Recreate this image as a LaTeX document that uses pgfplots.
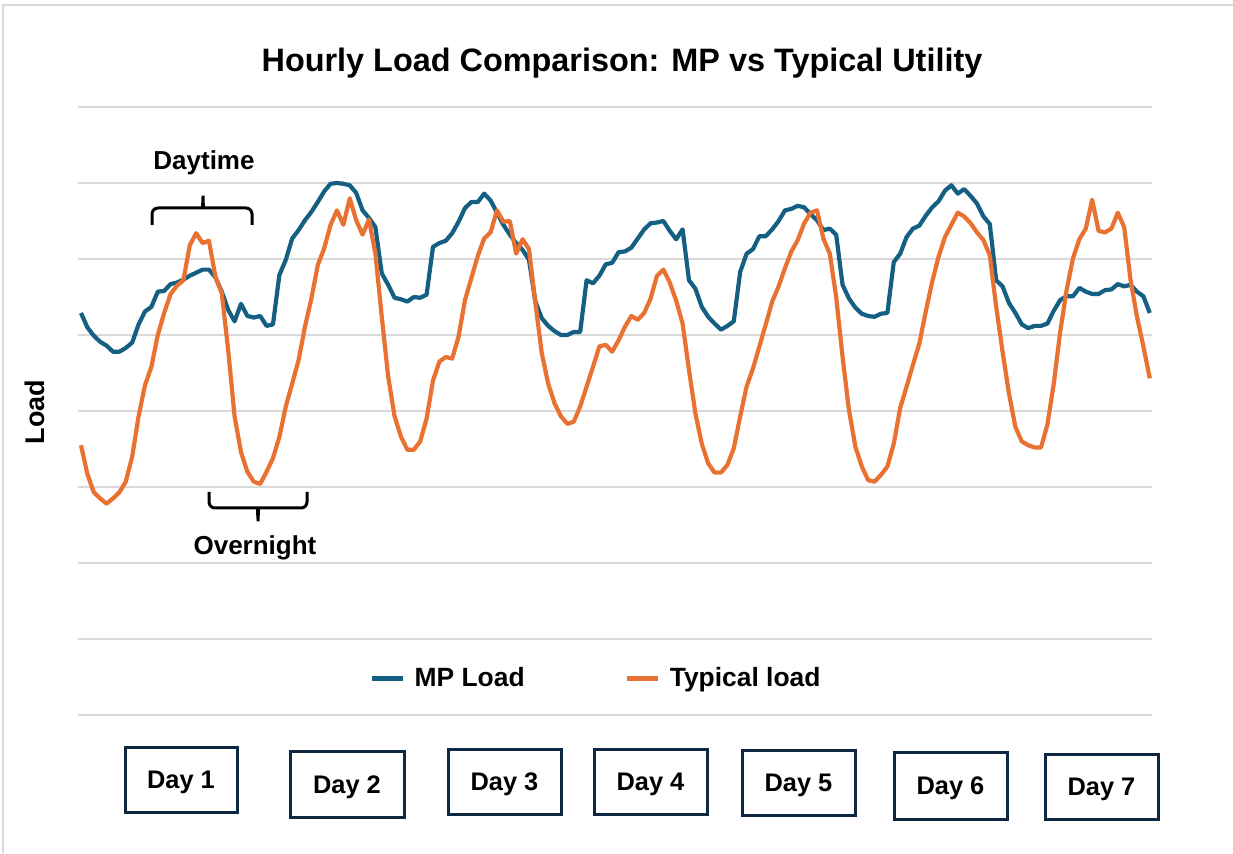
\documentclass[border=0pt]{standalone}
\usepackage{fontspec}
\setmainfont{Liberation Sans}
\usepackage{pgfplots}
\usepackage{pgfplotstable}
\pgfplotsset{compat=1.18}
\definecolor{mpblue}{HTML}{156082}
\definecolor{typorange}{HTML}{E97132}
\definecolor{gridgray}{HTML}{D9D9D9}
\definecolor{boxnavy}{HTML}{0E2841}

\pgfplotstableread{
h mp typ
0 5.29 3.55
1 5.10 3.17
2 4.99 2.93
3 4.91 2.85
4 4.86 2.78
5 4.78 2.85
6 4.78 2.93
7 4.83 3.07
8 4.90 3.40
9 5.14 3.93
10 5.31 4.34
11 5.37 4.58
12 5.57 5.00
13 5.58 5.29
14 5.67 5.54
15 5.69 5.65
16 5.73 5.72
17 5.78 6.18
18 5.82 6.34
19 5.86 6.21
20 5.86 6.24
21 5.76 5.77
22 5.57 5.55
23 5.33 4.80
24 5.18 3.93
25 5.41 3.46
26 5.25 3.20
27 5.23 3.07
28 5.25 3.04
29 5.12 3.20
30 5.14 3.38
31 5.79 3.66
32 5.99 4.06
33 6.27 4.36
34 6.38 4.67
35 6.51 5.11
36 6.62 5.48
37 6.75 5.92
38 6.89 6.14
39 6.99 6.45
40 7.00 6.64
41 6.99 6.45
42 6.97 6.80
43 6.87 6.51
44 6.64 6.32
45 6.54 6.52
46 6.42 6.07
47 5.81 5.24
48 5.66 4.45
49 5.49 3.93
50 5.47 3.66
51 5.44 3.49
52 5.50 3.49
53 5.49 3.60
54 5.53 3.90
55 6.16 4.40
56 6.21 4.65
57 6.24 4.71
58 6.34 4.69
59 6.49 4.98
60 6.67 5.46
61 6.75 5.75
62 6.75 6.04
63 6.86 6.27
64 6.77 6.35
65 6.61 6.64
66 6.45 6.49
67 6.32 6.50
68 6.21 6.07
69 6.12 6.26
70 5.99 6.13
71 5.44 5.42
72 5.22 4.76
73 5.12 4.36
74 5.05 4.10
75 5.00 3.93
76 5.00 3.83
77 5.04 3.86
78 5.04 4.06
79 5.72 4.32
80 5.68 4.58
81 5.78 4.85
82 5.93 4.87
83 5.95 4.78
84 6.09 4.93
85 6.10 5.11
86 6.15 5.25
87 6.27 5.20
88 6.39 5.29
89 6.47 5.48
90 6.48 5.78
91 6.50 5.86
92 6.37 5.69
93 6.26 5.45
94 6.39 5.15
95 5.72 4.54
96 5.61 3.97
97 5.37 3.57
98 5.24 3.31
99 5.15 3.19
100 5.07 3.19
101 5.12 3.29
102 5.18 3.51
103 5.83 3.93
104 6.07 4.32
105 6.13 4.56
106 6.30 4.85
107 6.30 5.14
108 6.39 5.44
109 6.50 5.64
110 6.64 5.88
111 6.66 6.10
112 6.70 6.25
113 6.68 6.47
114 6.59 6.61
115 6.51 6.64
116 6.38 6.27
117 6.40 6.07
118 6.32 5.50
119 5.66 4.71
120 5.48 4.01
121 5.36 3.53
122 5.28 3.27
123 5.25 3.09
124 5.24 3.07
125 5.28 3.16
126 5.29 3.27
127 5.96 3.57
128 6.07 4.04
129 6.29 4.32
130 6.40 4.61
131 6.44 4.89
132 6.57 5.31
133 6.68 5.70
134 6.76 6.03
135 6.90 6.29
136 6.97 6.45
137 6.86 6.61
138 6.92 6.56
139 6.83 6.47
140 6.73 6.35
141 6.56 6.25
142 6.46 6.05
143 5.72 5.37
144 5.64 4.78
145 5.42 4.23
146 5.29 3.79
147 5.14 3.60
148 5.09 3.55
149 5.12 3.52
150 5.12 3.52
151 5.15 3.82
152 5.32 4.36
153 5.46 5.04
154 5.51 5.59
155 5.51 6.01
156 5.62 6.26
157 5.57 6.40
158 5.54 6.78
159 5.54 6.37
160 5.59 6.35
161 5.60 6.40
162 5.67 6.61
163 5.64 6.42
164 5.66 5.72
165 5.57 5.24
166 5.51 4.85
167 5.29 4.43
}\loaddata

\begin{document}
\begin{tikzpicture}
\path[use as bounding box] (0,0) rectangle (616.5pt,426.5pt);
\begin{axis}[
  at={(39.15pt,69pt)}, anchor=south west,
  scale only axis, width=536.7pt, height=304pt,
  xmin=-0.42, xmax=167.3, ymin=0, ymax=8,
  xtick=\empty, ytick={0,1,...,8}, yticklabels={},
  major tick length=0pt,
  ymajorgrids, grid style={gridgray, line width=1pt},
  axis line style={draw=none},
  clip=false,
  legend columns=2,
  legend style={at={(0.4832,0.060)}, anchor=center, draw=none, fill=none,
    font=\fontsize{13.2}{15}\selectfont\bfseries,
    /tikz/every odd column/.append style={column sep=3pt},
    /tikz/every even column/.append style={column sep=48pt}},
  legend image code/.code={\draw[#1] (0pt,0pt) -- (15.5pt,0pt);},
]
\addplot[mpblue, line width=2.1pt, line join=round] table[x=h, y=mp] {\loaddata};
\addlegendentry{MP Load}
\addplot[typorange, line width=2.1pt, line join=round] table[x=h, y=typ] {\loaddata};
\addlegendentry{Typical load}
\end{axis}
\begin{scope}[x=0.5pt, y=-0.5pt, yshift=426.5pt]
  \draw[gridgray, line width=1pt] (3,853) -- (3,5) -- (1233,5);
  \node[font=\fontsize{16.2}{19}\selectfont\bfseries] at (622,63) {Hourly Load Comparison: MP vs Typical Utility};
  \node[rotate=90, font=\fontsize{13.5}{16}\selectfont\bfseries] at (35,412) {Load};
  \node[font=\fontsize{13}{15}\selectfont\bfseries] at (204,163) {Daytime};
  \draw[black, line width=1.5pt, rounded corners=3pt] (152,225) -- (152,208) -- (197,208) to[out=0,in=-90] (203,192) to[out=-90,in=180] (209,208) -- (252,208) -- (252,225);
  \node[font=\fontsize{13}{15}\selectfont\bfseries] at (255,548) {Overnight};
  \draw[black, line width=1.5pt, rounded corners=3pt] (209,492) -- (209,508) -- (252,508) to[out=0,in=90] (258,525) to[out=90,in=180] (264,508) -- (307,508) -- (307,492);
  \foreach \xa/\xb/\ya/\yb/\t in {125/237/747/812/1, 290/404/751/817/2, 448/561/749/814/3, 594/707/749/814/4, 742/855/750/815/5, 894/1007/752/819/6, 1045/1158/754/819/7}{
    \draw[boxnavy, line width=1.5pt] (\xa,\ya) rectangle (\xb,\yb);
    \node[font=\fontsize{12.7}{15}\selectfont\bfseries] at ({(\xa+\xb)/2},{(\ya+\yb)/2+3}) {Day \t};
  }
\end{scope}
\end{tikzpicture}
\end{document}
